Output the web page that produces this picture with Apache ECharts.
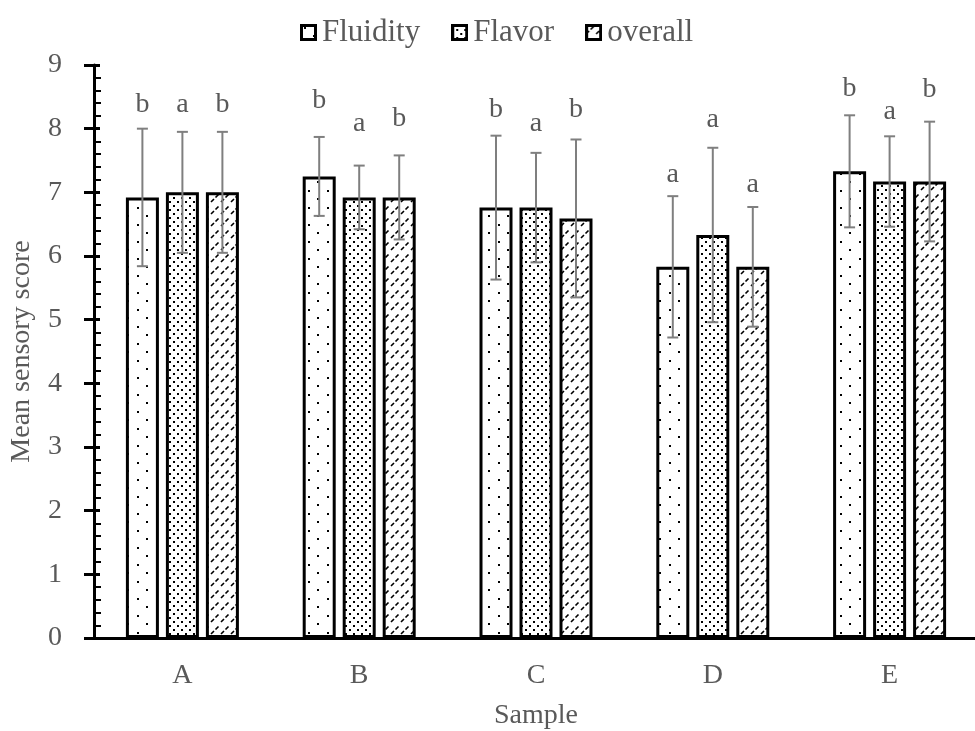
<!DOCTYPE html>
<html>
<head>
<meta charset="utf-8">
<script src="https://cdn.jsdelivr.net/npm/echarts@6/dist/echarts.min.js"></script>
<style>
html,body{margin:0;padding:0;background:#fff;}
#chart{width:975px;height:731px;}
</style>
</head>
<body>
<div id="chart"></div>
<script>
// ---------------- data ----------------
const categories = ['A', 'B', 'C', 'D', 'E'];
const seriesNames = ['Fluidity', 'Flavor', 'overall'];

const fluidityMean = [6.92, 7.25, 6.76, 5.83, 7.33];
const fluiditySD   = [1.08, 0.62, 1.13, 1.11, 0.88];
const flavorMean   = [7.00, 6.92, 6.76, 6.33, 7.17];
const flavorSD     = [0.95, 0.50, 0.86, 1.37, 0.71];
const overallMean  = [7.00, 6.92, 6.59, 5.83, 7.17];
const overallSD    = [0.95, 0.66, 1.24, 0.94, 0.94];

const fluidityLetters = ['b', 'b', 'b', 'a', 'b'];
const flavorLetters   = ['a', 'a', 'a', 'a', 'a'];
const overallLetters  = ['b', 'b', 'b', 'a', 'b'];
// height (score units) of the baseline of each significance letter
const fluidityLetterAt = [8.25, 8.31, 8.18, 7.16, 8.50];
const flavorLetterAt   = [8.25, 7.95, 7.95, 8.01, 8.14];
const overallLetterAt  = [8.25, 8.03, 8.18, 7.00, 8.48];

const yMin = 0, yMax = 9, yInterval = 1;

// ---------------- styling ----------------
const FONT = 'Liberation Serif';
const TXT = '#595959';
const BAR_W = 33, BAR_GAP = 7;

function makeCanvas(w, h, draw) {
  const c = document.createElement('canvas');
  c.width = w; c.height = h;
  const g = c.getContext('2d');
  g.fillStyle = '#fff'; g.fillRect(0, 0, w, h);
  g.fillStyle = '#000'; g.strokeStyle = '#000';
  draw(g);
  return c;
}
const drawSparse = g => { g.fillRect(4, 3, 2, 2); g.fillRect(13, 11, 2, 2); };
const drawDense = g => { g.fillRect(1, 1, 2, 2); g.fillRect(5, 5, 2, 2); };
const drawDash = g => {
  g.lineWidth = 1.6;
  g.beginPath();
  g.moveTo(1, 10); g.lineTo(4, 7);
  g.moveTo(5.5, 5.5); g.lineTo(8.5, 2.5);
  g.stroke();
};
const patternDefs = [[19, 17, drawSparse], [8, 8, drawDense], [10, 12, drawDash]];
const patterns = patternDefs.map(d => ({ image: makeCanvas(d[0], d[1], d[2]), repeat: 'repeat' }));

// legend icons: bordered square filled with the pattern
function legendIcon(k) {
  const S = 17;
  const pat = makeCanvas(patternDefs[k][0], patternDefs[k][1], patternDefs[k][2]);
  const c = document.createElement('canvas');
  c.width = S; c.height = S;
  const g = c.getContext('2d');
  g.fillStyle = g.createPattern(pat, 'repeat');
  g.fillRect(0, 0, S, S);
  g.strokeStyle = '#000'; g.lineWidth = 3;
  g.strokeRect(1.5, 1.5, S - 3, S - 3);
  return 'image://' + c.toDataURL();
}

const means = [fluidityMean, flavorMean, overallMean];
const sds = [fluiditySD, flavorSD, overallSD];
const letters = [fluidityLetters, flavorLetters, overallLetters];
const letterAt = [fluidityLetterAt, flavorLetterAt, overallLetterAt];

const barSeries = seriesNames.map((name, k) => ({
  name: name,
  type: 'bar',
  data: means[k],
  barWidth: BAR_W,
  barGap: (BAR_GAP / BAR_W * 100).toFixed(1) + '%',
  itemStyle: { color: patterns[k], borderColor: '#000', borderWidth: 3 },
  emphasis: { disabled: true },
  z: 2
}));

const errSeries = seriesNames.map((name, k) => ({
  type: 'custom',
  name: name + '_err',
  data: categories.map((c, i) => [i, means[k][i], sds[k][i], letterAt[k][i]]),
  z: 5,
  silent: true,
  renderItem: function (params, api) {
    const i = api.value(0), m = api.value(1), sd = api.value(2), la = api.value(3);
    const x = api.coord([i, m])[0] + (k - 1) * (BAR_W + BAR_GAP);
    const yt = api.coord([i, m + sd])[1];
    const yb = api.coord([i, m - sd])[1];
    const yl = api.coord([i, la])[1];
    const st = { stroke: '#7f7f7f', lineWidth: 2 };
    const cap = 5.5;
    return {
      type: 'group',
      children: [
        { type: 'line', shape: { x1: x, y1: yt, x2: x, y2: yb }, style: st },
        { type: 'line', shape: { x1: x - cap, y1: yt, x2: x + cap, y2: yt }, style: st },
        { type: 'line', shape: { x1: x - cap, y1: yb, x2: x + cap, y2: yb }, style: st },
        { type: 'text', x: x, y: yl + 6, style: {
            text: letters[k][params.dataIndex], fill: TXT,
            font: '28px "' + FONT + '"', align: 'center', verticalAlign: 'bottom' } }
      ]
    };
  }
}));

const chart = echarts.init(document.getElementById('chart'), null, { renderer: 'canvas' });
chart.setOption({
  animation: false,
  backgroundColor: '#fff',
  textStyle: { fontFamily: FONT, color: TXT },
  legend: {
    data: seriesNames.map((n, k) => ({ name: n, icon: legendIcon(k) })),
    left: 295, top: 12,
    itemWidth: 17, itemHeight: 17, itemGap: 31,
    selectedMode: false,
    textStyle: { fontFamily: FONT, fontSize: 31, color: TXT }
  },
  grid: { left: 94, right: -3, top: 65, bottom: 93, containLabel: false, outerBoundsMode: 'none' },
  xAxis: {
    type: 'category', data: categories,
    name: 'Sample', nameLocation: 'middle', nameGap: 64, nameMoveOverlap: false,
    nameTextStyle: { fontFamily: FONT, fontSize: 28, color: TXT },
    axisLine: { lineStyle: { color: '#000', width: 3 } },
    axisTick: { show: false },
    axisLabel: { fontFamily: FONT, fontSize: 28, color: TXT, margin: 24 }
  },
  yAxis: [{
    type: 'value', min: yMin, max: yMax, interval: yInterval, position: 'left',
    name: 'Mean sensory score', nameLocation: 'middle', nameGap: 58, nameMoveOverlap: false,
    nameTextStyle: { fontFamily: FONT, fontSize: 28, color: TXT },
    axisLine: { show: true, lineStyle: { color: '#000', width: 3 } },
    axisTick: { show: true, inside: false, length: 10, lineStyle: { color: '#000', width: 3 } },
    axisLabel: { fontFamily: FONT, fontSize: 28, color: TXT, margin: 32 },
    splitLine: { show: false }
  }, {
    type: 'value', min: yMin, max: yMax, interval: yInterval, position: 'left',
    axisLine: { show: false },
    axisTick: { show: true, inside: true, length: 6, lineStyle: { color: '#000', width: 3 } },
    minorTick: { show: true, splitNumber: 5, length: 7, lineStyle: { color: '#000', width: 2 } },
    axisLabel: { show: false },
    splitLine: { show: false }
  }],
  series: barSeries.concat(errSeries)
});
</script>
</body>
</html>
